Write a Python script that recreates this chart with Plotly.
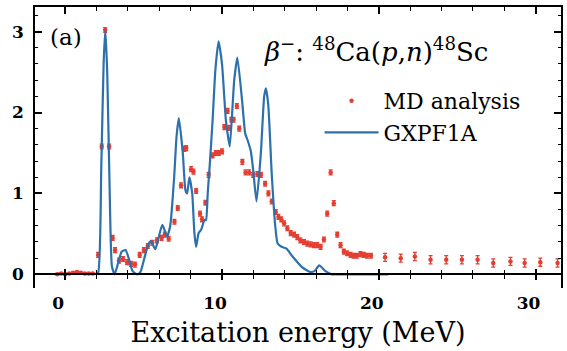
import plotly.graph_objects as go

# GXPF1A shell-model strength (MeV, strength)
gx_energy = [1.9, 2.1, 2.3, 2.45, 2.56, 2.68, 2.82, 2.98, 3.15, 3.35, 3.6, 3.85, 4.05, 4.3, 4.6,
             4.8, 5.05, 5.25, 5.45, 5.75, 5.95, 6.2, 6.5, 6.7, 6.95, 7.1, 7.25, 7.5, 7.67, 7.78,
             7.92, 8.1, 8.24, 8.35, 8.51, 8.67, 8.88, 8.98, 9.09, 9.24, 9.4, 9.58, 9.78, 10.0,
             10.25, 10.42, 10.5, 10.78, 10.98, 11.3, 11.48, 11.63, 11.84, 11.99, 12.2, 12.48,
             12.69, 12.8, 12.95, 13.17, 13.4, 13.55, 13.8, 14.1, 14.5, 15.1, 15.6, 15.9, 16.2,
             16.6, 17.0, 18.0, 20.6]
gx_strength = [0.0, 0.02, 1.3, 2.6, 3.02, 2.5, 1.2, 0.1, 0.0, 0.12, 0.28, 0.30, 0.2, 0.04, 0.0,
               0.03, 0.2, 0.34, 0.41, 0.31, 0.45, 0.61, 0.47, 0.6, 1.2, 1.7, 1.93, 1.5, 1.04, 1.0,
               1.2, 1.0, 0.51, 0.34, 0.51, 0.55, 0.67, 0.67, 1.0, 1.41, 1.9, 2.53, 2.88, 2.6,
               1.9, 1.66, 1.58, 2.4, 2.68, 2.11, 1.74, 1.66, 1.52, 1.29, 0.90, 1.5,
               2.2, 2.30, 2.1, 1.25, 0.59, 0.38, 0.34, 0.32, 0.22, 0.09, 0.03, 0.04, 0.11,
               0.04, 0.0, 0.0, 0.0]

# MD analysis of the (p,n) data
md_energy = [-0.5, -0.25, 0.0, 0.25, 0.5, 0.75, 1.0, 1.25, 1.5, 1.75, 2.1, 2.33, 2.55, 2.8,
             3.03, 3.18, 3.43, 3.69, 3.95, 4.2, 4.45, 4.75, 5.02, 5.27, 5.55, 5.85, 6.15, 6.35,
             6.6, 6.97, 7.18, 7.39, 7.6, 7.72, 8.03, 8.18, 8.35, 8.6, 8.73, 8.94, 9.15, 9.4,
             9.6, 9.8, 10.0, 10.15, 10.36, 10.46, 10.6, 10.74, 10.95, 11.1, 11.3, 11.5, 11.73,
             11.99, 12.26, 12.48, 12.75, 12.96, 13.17, 13.43, 13.6, 13.78, 13.96, 14.17, 14.38,
             14.6, 14.8, 15.0, 15.23, 15.44, 15.65, 15.86, 16.07, 16.29, 16.5, 16.71, 16.93,
             17.13, 17.35, 17.56, 17.77, 17.98, 18.2, 18.4, 18.6, 18.83, 19.04, 19.25, 19.5,
             20.4, 21.4, 22.3, 23.3, 24.3, 25.3, 26.3, 27.3, 28.4, 29.3, 30.3, 31.4]
md_strength = [0.0, 0.01, 0.0, 0.01, 0.02, 0.03, 0.02, 0.01, 0.01, 0.01, 0.24, 1.58, 3.02, 1.58,
               0.45, 0.30, 0.17, 0.19, 0.15, 0.13, 0.12, 0.24, 0.30, 0.35, 0.39, 0.42, 0.45, 0.49,
               0.44, 0.65, 0.82, 1.10, 1.55, 1.56, 1.30, 1.27, 1.03, 0.75, 0.68, 0.885, 1.23, 1.47,
               1.50, 1.50, 1.52, 1.82, 2.02, 1.81, 1.91, 1.91, 2.08, 1.80, 1.39, 1.26, 1.26,
               1.23, 1.24, 1.23, 1.12, 1.0, 0.90, 0.77, 0.71, 0.68, 0.63, 0.57, 0.51,
               0.49, 0.46, 0.42, 0.40, 0.38, 0.37, 0.36, 0.36, 0.34, 0.43, 0.75, 1.26,
               0.88, 0.49, 0.36, 0.28, 0.26, 0.24, 0.23, 0.23, 0.25, 0.24, 0.23, 0.23,
               0.21, 0.20, 0.22, 0.18, 0.18, 0.18, 0.18, 0.14, 0.16, 0.14, 0.15, 0.14]
md_error = [0.01] * 10 + [0.03] * 81 + [0.05] * 12

x_range = [-1.925, 31.62]
y_range = [-0.169, 3.304]
zero_pos = (0 - y_range[0]) / (y_range[1] - y_range[0])

red = "rgb(228,62,50)"
blue = "rgb(44,112,172)"
serif = "DejaVu Serif"

fig = go.Figure()
fig.add_trace(go.Scatter(
    x=md_energy, y=md_strength, mode="markers", name="MD analysis",
    marker=dict(color=red, size=4.5, symbol="circle"),
    error_y=dict(type="data", array=md_error, color=red, thickness=1.3, width=2),
))
fig.add_trace(go.Scatter(
    x=gx_energy, y=gx_strength, mode="lines", name="GXPF1A",
    line=dict(color=blue, width=2.2, shape="spline", smoothing=0.5),
))

tick_common = dict(range=x_range, showgrid=False, zeroline=False, showticklabels=False,
                   tick0=0, dtick=10, linecolor="black", linewidth=1.5, tickcolor="black",
                   tickwidth=1.5)

fig.update_layout(
    width=567, height=351,
    margin=dict(l=35, r=4, t=7, b=63),
    plot_bgcolor="white", paper_bgcolor="white",
    showlegend=True,
    legend=dict(x=0.541, y=0.74, xanchor="left", yanchor="top",
                font=dict(family=serif, size=22, color="black"),
                bgcolor="rgba(0,0,0,0)", itemwidth=54, tracegroupgap=0),
    xaxis=dict(range=x_range, showline=False, showgrid=False, zeroline=False, ticks="",
               tickvals=[0, 10, 20, 30], ticktext=["0", "10", "20", "30"],
               tickfont=dict(family=serif, size=17, color="black", weight="bold"),
               ticklabelshift=-7, ticklabelstandoff=3,
               title=dict(text="Excitation energy (MeV)",
                          font=dict(family=serif, size=27, color="black"), standoff=11)),
    xaxis2=dict(overlaying="x", anchor="free", position=zero_pos, showline=True,
                ticks="outside", ticklen=5,
                minor=dict(dtick=2, ticks="outside", ticklen=4, tickcolor="black", tickwidth=1.3),
                **tick_common),
    xaxis3=dict(overlaying="x", anchor="free", position=zero_pos, showline=False,
                ticks="inside", ticklen=5,
                minor=dict(dtick=2, ticks="inside", ticklen=4, tickcolor="black", tickwidth=1.3),
                **tick_common),
    xaxis4=dict(overlaying="x", anchor="y", side="top", showline=True,
                ticks="inside", ticklen=7,
                minor=dict(dtick=2, ticks="inside", ticklen=4, tickcolor="black", tickwidth=1.3),
                **tick_common),
    yaxis=dict(range=y_range, showline=True, mirror="ticks", linecolor="black", linewidth=1.5,
               showgrid=False, zeroline=False, ticks="inside", ticklen=7, tickwidth=1.5,
               tickcolor="black", tick0=0, dtick=1,
               minor=dict(dtick=0.2, ticks="inside", ticklen=3, tickcolor="black", tickwidth=1.3),
               tickfont=dict(family=serif, size=17, color="black", weight="bold"),
               ticklabelstandoff=6),
)

# empty traces so the overlay axes get drawn
for ax in ["x2", "x3", "x4"]:
    fig.add_trace(go.Scatter(x=[None], y=[None], xaxis=ax, yaxis="y", showlegend=False,
                             hoverinfo="skip"))

fig.add_annotation(text="<i>β</i><sup>−</sup>: <sup>48</sup>Ca(<i>p</i>,<i>n</i>)<sup>48</sup>Sc",
                   xref="paper", yref="paper", x=0.648, y=0.847, showarrow=False,
                   xanchor="center", yanchor="middle",
                   font=dict(family=serif, size=26, color="black"))
fig.add_annotation(text="(a)", xref="paper", yref="paper", x=0.059, y=0.895, showarrow=False,
                   xanchor="center", yanchor="middle",
                   font=dict(family=serif, size=23, color="black"))

fig.write_html("out.html")
